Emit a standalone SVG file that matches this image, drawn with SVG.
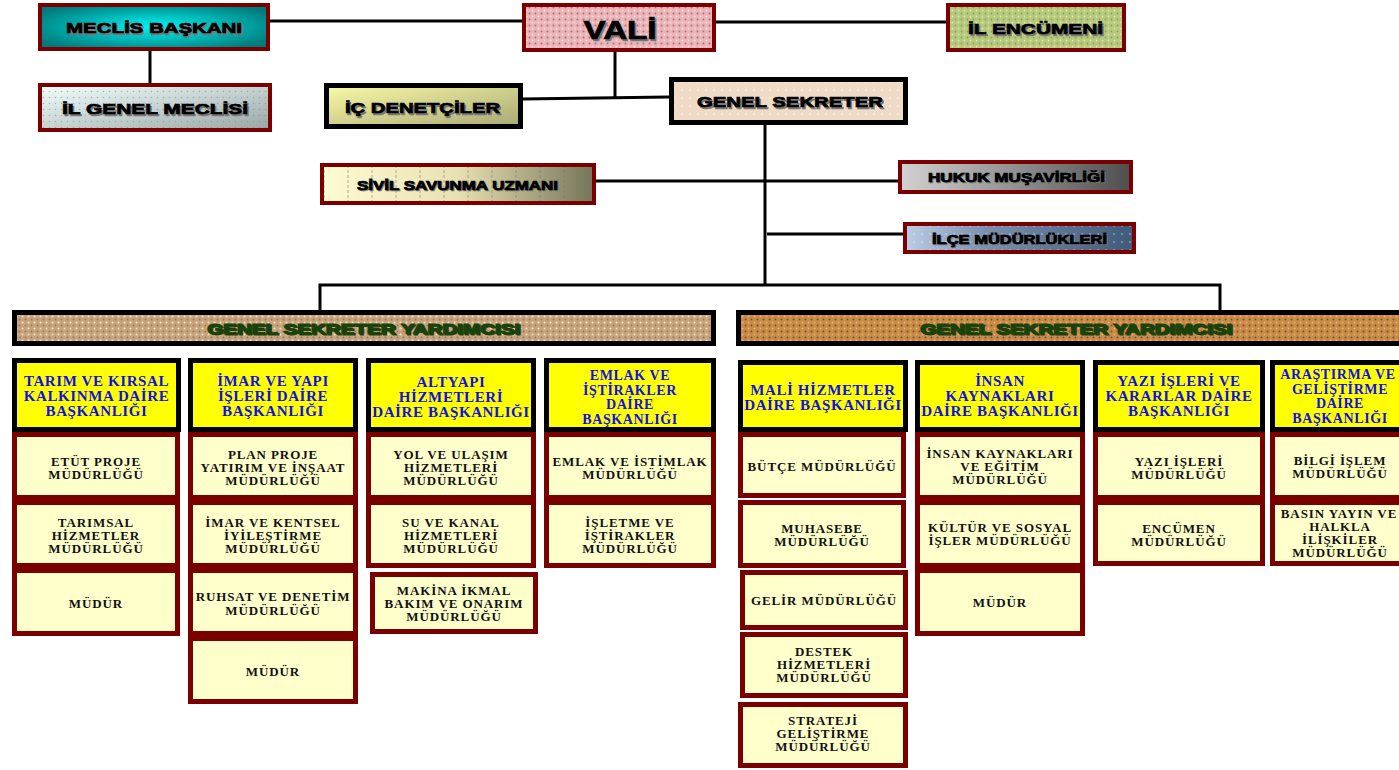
<svg xmlns="http://www.w3.org/2000/svg" width="1399" height="770" viewBox="0 0 1399 770">
<defs>
<style>
.top{font-family:"Liberation Sans",Arial,sans-serif;font-weight:bold;fill:#000;stroke:#000;stroke-width:0.7;text-anchor:middle}
.sh{fill:#777;stroke:#777}
.hd{font-family:"Liberation Serif","Times New Roman",serif;font-weight:bold;font-size:15px;letter-spacing:0.6px;fill:#1010e6;text-anchor:middle}
.h4{font-size:14px}
.sb{font-family:"Liberation Serif","Times New Roman",serif;font-weight:bold;font-size:13px;fill:#111;text-anchor:middle;letter-spacing:0.9px}
.gsy{font-family:"Liberation Sans",Arial,sans-serif;font-weight:bold;font-size:15px;fill:#1a420c;stroke:#1a420c;stroke-width:0.9;text-anchor:middle}
.hbox{fill:#ffff00;stroke:#000;stroke-width:5}
.sbox{fill:#ffffcc;stroke:#7a0000;stroke-width:5}
.rbox{stroke:#7a0000;stroke-width:4}
.kbox{stroke:#000;stroke-width:5}
.con{stroke:#000;stroke-width:3;fill:none}
</style>
<radialGradient id="gMec" cx="50%" cy="50%" r="60%"><stop offset="0" stop-color="#00f4f4"/><stop offset="1" stop-color="#007a7a"/></radialGradient>
<pattern id="pVali" width="6" height="6" patternUnits="userSpaceOnUse"><rect width="6" height="6" fill="#eab4b8"/><circle cx="1.5" cy="1.5" r="1" fill="#b8707a"/><circle cx="4.5" cy="4.5" r="1" fill="#f8dde0"/></pattern>
<pattern id="pEnc" width="6" height="6" patternUnits="userSpaceOnUse"><rect width="6" height="6" fill="#b6c97c"/><circle cx="1.5" cy="1.5" r="0.9" fill="#8fa35a"/><circle cx="4.5" cy="4.5" r="0.9" fill="#dbe6b4"/></pattern>
<linearGradient id="gIgm" x1="0" y1="0" x2="1" y2="1"><stop offset="0" stop-color="#f2ffff"/><stop offset="1" stop-color="#9aa6a6"/></linearGradient>
<pattern id="pIgm" width="6" height="6" patternUnits="userSpaceOnUse"><circle cx="1.5" cy="1.5" r="0.8" fill="#7f8c8c" opacity="0.6"/></pattern>
<linearGradient id="gIc" x1="0" y1="0" x2="1" y2="1"><stop offset="0" stop-color="#fafaa8"/><stop offset="1" stop-color="#a8a874"/></linearGradient>
<pattern id="pGs" width="8" height="8" patternUnits="userSpaceOnUse"><rect width="8" height="8" fill="#f0dcc6"/><circle cx="2" cy="2" r="0.8" fill="#fff8ee"/></pattern>
<linearGradient id="gSiv" x1="0" y1="0" x2="1" y2="0"><stop offset="0" stop-color="#fffcd4"/><stop offset="0.5" stop-color="#e8e0b0"/><stop offset="1" stop-color="#75755a"/></linearGradient>
<pattern id="pSiv" width="24" height="40" patternUnits="userSpaceOnUse"><line x1="12" y1="0" x2="12" y2="40" stroke="#777" stroke-width="0.6" stroke-dasharray="3 2"/></pattern>
<linearGradient id="gHuk" x1="0" y1="0" x2="1" y2="0"><stop offset="0" stop-color="#d2d2d2"/><stop offset="1" stop-color="#4e4e4e"/></linearGradient>
<linearGradient id="gIlce" x1="0" y1="0" x2="1" y2="0"><stop offset="0" stop-color="#bccde6"/><stop offset="0.35" stop-color="#7a90b0"/><stop offset="1" stop-color="#3f5a78"/></linearGradient>
<pattern id="pIlce" width="8" height="8" patternUnits="userSpaceOnUse"><circle cx="2" cy="2" r="0.8" fill="#e6eef8" opacity="0.7"/></pattern>
<pattern id="pGsy1" width="6" height="6" patternUnits="userSpaceOnUse"><rect width="6" height="6" fill="#c8a47c"/><circle cx="1.5" cy="1.5" r="1" fill="#9c7a54"/><circle cx="4.5" cy="4.5" r="1" fill="#f2e2cc"/></pattern>
<pattern id="pGsy2" width="6" height="6" patternUnits="userSpaceOnUse"><rect width="6" height="6" fill="#c88a48"/><circle cx="1.5" cy="1.5" r="1" fill="#7e5428"/><circle cx="4.5" cy="4.5" r="1" fill="#f0b060"/></pattern>
</defs>
<rect width="1399" height="770" fill="#fff"/>

<g id="connectors">
<line class="con" x1="270" y1="21" x2="522" y2="21"/>
<line class="con" x1="716" y1="22" x2="946" y2="22"/>
<line class="con" x1="150" y1="50" x2="150" y2="84"/>
<line class="con" x1="615" y1="51" x2="615" y2="98"/>
<line class="con" x1="522" y1="99" x2="669" y2="97"/>
<line class="con" x1="765" y1="125" x2="765" y2="286"/>
<line class="con" x1="596" y1="181" x2="898" y2="181"/>
<line class="con" x1="767" y1="234" x2="903" y2="234"/>
<polyline class="con" points="320,310 320,285 1220,285 1220,310"/>
</g>

<g id="meclis-baskani">
<rect x="40" y="5" width="228" height="44" fill="url(#gMec)" class="rbox"/>
<text class="top sh" x="155.5" y="34.5" font-size="15" textLength="176" lengthAdjust="spacingAndGlyphs">MECLİS BAŞKANI</text>
<text class="top" x="154" y="33" font-size="15" textLength="176" lengthAdjust="spacingAndGlyphs">MECLİS BAŞKANI</text>
</g>
<g id="vali">
<rect x="524" y="5" width="190" height="45" fill="url(#pVali)" class="rbox"/>
<text class="top sh" x="621.5" y="40.5" font-size="25" textLength="73" lengthAdjust="spacingAndGlyphs">VALİ</text>
<text class="top" x="620" y="39" font-size="25" textLength="73" lengthAdjust="spacingAndGlyphs">VALİ</text>
</g>
<g id="il-encumeni">
<rect x="948" y="5" width="176" height="45" fill="url(#pEnc)" class="rbox"/>
<text class="top sh" x="1037" y="35.5" font-size="15" textLength="135" lengthAdjust="spacingAndGlyphs">İL ENCÜMENİ</text>
<text class="top" x="1035.5" y="34" font-size="15" textLength="135" lengthAdjust="spacingAndGlyphs">İL ENCÜMENİ</text>
</g>
<g id="il-genel-meclisi">
<rect x="40" y="85" width="230" height="45" fill="url(#gIgm)" class="rbox"/>
<rect x="42" y="87" width="226" height="41" fill="url(#pIgm)"/>
<text class="top sh" x="156.5" y="115.5" font-size="15" textLength="186" lengthAdjust="spacingAndGlyphs">İL GENEL MECLİSİ</text>
<text class="top" x="155" y="114" font-size="15" textLength="186" lengthAdjust="spacingAndGlyphs">İL GENEL MECLİSİ</text>
</g>
<g id="ic-denetciler">
<rect x="326.5" y="85.5" width="194" height="41" fill="url(#gIc)" class="kbox"/>
<text class="top sh" x="424" y="114.5" font-size="15" textLength="155" lengthAdjust="spacingAndGlyphs">İÇ DENETÇİLER</text>
<text class="top" x="422.5" y="113" font-size="15" textLength="155" lengthAdjust="spacingAndGlyphs">İÇ DENETÇİLER</text>
</g>
<g id="genel-sekreter">
<rect x="671.5" y="79.5" width="234" height="43" fill="url(#pGs)" class="kbox"/>
<text class="top sh" x="791.5" y="108.5" font-size="15" textLength="186" lengthAdjust="spacingAndGlyphs">GENEL SEKRETER</text>
<text class="top" x="790" y="107" font-size="15" textLength="186" lengthAdjust="spacingAndGlyphs">GENEL SEKRETER</text>
</g>
<g id="sivil-savunma">
<rect x="322" y="165" width="272" height="38" fill="url(#gSiv)" class="rbox"/>
<rect x="324" y="167" width="268" height="34" fill="url(#pSiv)"/>
<text class="top sh" x="458.5" y="190.5" font-size="12" textLength="201" lengthAdjust="spacingAndGlyphs">SİVİL SAVUNMA UZMANI</text>
<text class="top" x="457.5" y="189.5" font-size="12" textLength="201" lengthAdjust="spacingAndGlyphs">SİVİL SAVUNMA UZMANI</text>
</g>
<g id="hukuk-musavirligi">
<rect x="900" y="162" width="231" height="30" fill="url(#gHuk)" class="rbox"/>
<text class="top sh" x="1017.5" y="183" font-size="12" textLength="177" lengthAdjust="spacingAndGlyphs">HUKUK MUŞAVİRLİĞİ</text>
<text class="top" x="1016.5" y="182" font-size="12" textLength="177" lengthAdjust="spacingAndGlyphs">HUKUK MUŞAVİRLİĞİ</text>
</g>
<g id="ilce-mudurlukleri">
<rect x="905" y="224" width="229" height="28" fill="url(#gIlce)" class="rbox"/>
<rect x="907" y="226" width="225" height="24" fill="url(#pIlce)"/>
<text class="top sh" x="1020.5" y="245" font-size="12" textLength="175" lengthAdjust="spacingAndGlyphs">İLÇE MÜDÜRLÜKLERİ</text>
<text class="top" x="1019.5" y="244" font-size="12" textLength="175" lengthAdjust="spacingAndGlyphs">İLÇE MÜDÜRLÜKLERİ</text>
</g>

<g id="gsy-left">
<rect x="14.5" y="312.5" width="699" height="31" fill="url(#pGsy1)" class="kbox"/>
<text class="gsy sh" x="365" y="335" textLength="313" lengthAdjust="spacingAndGlyphs">GENEL SEKRETER YARDIMCISI</text>
<text class="gsy" x="363.5" y="334" textLength="313" lengthAdjust="spacingAndGlyphs">GENEL SEKRETER YARDIMCISI</text>
</g>
<g id="gsy-right">
<rect x="738.5" y="312.5" width="680" height="31" fill="url(#pGsy2)" class="kbox"/>
<text class="gsy sh" x="1077.5" y="335" textLength="312" lengthAdjust="spacingAndGlyphs">GENEL SEKRETER YARDIMCISI</text>
<text class="gsy" x="1076" y="334" textLength="312" lengthAdjust="spacingAndGlyphs">GENEL SEKRETER YARDIMCISI</text>
</g>

<g id="tarim">
<rect class="hbox" x="14.5" y="360.5" width="164" height="69"/>
<text class="hd" x="96.5" y="386">TARIM VE KIRSAL</text>
<text class="hd" x="96.5" y="401">KALKINMA DAİRE</text>
<text class="hd" x="96.5" y="416">BAŞKANLIĞI</text>
</g>
<g id="etut-proje"><rect class="sbox" x="14.5" y="434.5" width="163" height="63"/>
<text class="sb" x="96" y="466">ETÜT PROJE</text><text class="sb" x="96" y="479">MÜDÜRLÜĞÜ</text></g>
<g id="tarimsal"><rect class="sbox" x="14.5" y="502.5" width="163" height="63"/>
<text class="sb" x="96" y="527">TARIMSAL</text><text class="sb" x="96" y="540">HİZMETLER</text><text class="sb" x="96" y="553">MÜDÜRLÜĞÜ</text></g>
<g id="tarim-mudur"><rect class="sbox" x="14.5" y="570.5" width="163" height="63"/>
<text class="sb" x="96" y="608">MÜDÜR</text></g>

<g id="imar">
<rect class="hbox" x="190.5" y="360.5" width="165" height="69"/>
<text class="hd" x="273" y="386">İMAR VE YAPI</text>
<text class="hd" x="273" y="401">İŞLERİ DAİRE</text>
<text class="hd" x="273" y="416">BAŞKANLIĞI</text>
</g>
<g id="plan-proje"><rect class="sbox" x="190.5" y="434.5" width="165" height="63"/>
<text class="sb" x="273" y="459">PLAN PROJE</text><text class="sb" x="273" y="472">YATIRIM VE İNŞAAT</text><text class="sb" x="273" y="485">MÜDÜRLÜĞÜ</text></g>
<g id="imar-kentsel"><rect class="sbox" x="190.5" y="502.5" width="165" height="63"/>
<text class="sb" x="273" y="527">İMAR VE KENTSEL</text><text class="sb" x="273" y="540">İYİLEŞTİRME</text><text class="sb" x="273" y="553">MÜDÜRLÜĞÜ</text></g>
<g id="ruhsat"><rect class="sbox" x="190.5" y="570.5" width="165" height="63"/>
<text class="sb" x="273" y="601">RUHSAT VE DENETİM</text><text class="sb" x="273" y="615">MÜDÜRLÜĞÜ</text></g>
<g id="imar-mudur"><rect class="sbox" x="190.5" y="638.5" width="165" height="63"/>
<text class="sb" x="273" y="676">MÜDÜR</text></g>

<g id="altyapi">
<rect class="hbox" x="368.5" y="360.5" width="165" height="69"/>
<text class="hd" x="451" y="387">ALTYAPI</text>
<text class="hd" x="451" y="402">HİZMETLERİ</text>
<text class="hd" x="451" y="417">DAİRE BAŞKANLIĞI</text>
</g>
<g id="yol-ulasim"><rect class="sbox" x="368.5" y="434.5" width="165" height="63"/>
<text class="sb" x="451" y="459">YOL VE ULAŞIM</text><text class="sb" x="451" y="472">HİZMETLERİ</text><text class="sb" x="451" y="485">MÜDÜRLÜĞÜ</text></g>
<g id="su-kanal"><rect class="sbox" x="368.5" y="502.5" width="165" height="63"/>
<text class="sb" x="451" y="527">SU VE KANAL</text><text class="sb" x="451" y="540">HİZMETLERİ</text><text class="sb" x="451" y="553">MÜDÜRLÜĞÜ</text></g>
<g id="makina"><rect class="sbox" x="372.5" y="574.5" width="163" height="57"/>
<text class="sb" x="454" y="595">MAKİNA İKMAL</text><text class="sb" x="454" y="608">BAKIM VE ONARIM</text><text class="sb" x="454" y="621">MÜDÜRLÜĞÜ</text></g>

<g id="emlak">
<rect class="hbox" x="546.5" y="360.5" width="167" height="69"/>
<text class="hd h4" x="630" y="380">EMLAK VE</text>
<text class="hd h4" x="630" y="394.5">İŞTİRAKLER</text>
<text class="hd h4" x="630" y="409">DAİRE</text>
<text class="hd h4" x="630" y="423.5">BAŞKANLIĞI</text>
</g>
<g id="emlak-istimlak"><rect class="sbox" x="546.5" y="434.5" width="167" height="63"/>
<text class="sb" x="630" y="466">EMLAK VE İSTİMLAK</text><text class="sb" x="630" y="479">MÜDÜRLÜĞÜ</text></g>
<g id="isletme"><rect class="sbox" x="546.5" y="502.5" width="167" height="63"/>
<text class="sb" x="630" y="527">İŞLETME VE</text><text class="sb" x="630" y="540">İŞTİRAKLER</text><text class="sb" x="630" y="553">MÜDÜRLÜĞÜ</text></g>

<g id="mali">
<rect class="hbox" x="740.5" y="362.5" width="165" height="67"/>
<text class="hd" x="823" y="395">MALİ HİZMETLER</text>
<text class="hd" x="823" y="410">DAİRE BAŞKANLIĞI</text>
</g>
<g id="butce"><rect class="sbox" x="740.5" y="434.5" width="163" height="61"/>
<text class="sb" x="822" y="471">BÜTÇE MÜDÜRLÜĞÜ</text></g>
<g id="muhasebe"><rect class="sbox" x="740.5" y="502.5" width="163" height="63"/>
<text class="sb" x="822" y="533">MUHASEBE</text><text class="sb" x="822" y="546">MÜDÜRLÜĞÜ</text></g>
<g id="gelir"><rect class="sbox" x="742.5" y="572.5" width="163" height="55"/>
<text class="sb" x="824" y="605">GELİR MÜDÜRLÜĞÜ</text></g>
<g id="destek"><rect class="sbox" x="742.5" y="634.5" width="163" height="61"/>
<text class="sb" x="824" y="656">DESTEK</text><text class="sb" x="824" y="669">HİZMETLERİ</text><text class="sb" x="824" y="682">MÜDÜRLÜĞÜ</text></g>
<g id="strateji"><rect class="sbox" x="740.5" y="704.5" width="165" height="61"/>
<text class="sb" x="823" y="725">STRATEJİ</text><text class="sb" x="823" y="738">GELİŞTİRME</text><text class="sb" x="823" y="751">MÜDÜRLÜĞÜ</text></g>

<g id="insan">
<rect class="hbox" x="917.5" y="362.5" width="165" height="67"/>
<text class="hd" x="1000" y="386">İNSAN</text>
<text class="hd" x="1000" y="401">KAYNAKLARI</text>
<text class="hd" x="1000" y="416">DAİRE BAŞKANLIĞI</text>
</g>
<g id="insan-kaynaklari"><rect class="sbox" x="917.5" y="434.5" width="165" height="63"/>
<text class="sb" x="1000" y="458">İNSAN KAYNAKLARI</text><text class="sb" x="1000" y="471">VE EĞİTİM</text><text class="sb" x="1000" y="484">MÜDÜRLÜĞÜ</text></g>
<g id="kultur"><rect class="sbox" x="917.5" y="502.5" width="165" height="63"/>
<text class="sb" x="1000" y="532">KÜLTÜR VE SOSYAL</text><text class="sb" x="1000" y="545">İŞLER MÜDÜRLÜĞÜ</text></g>
<g id="insan-mudur"><rect class="sbox" x="917.5" y="570.5" width="165" height="63"/>
<text class="sb" x="1000" y="607">MÜDÜR</text></g>

<g id="yazi">
<rect class="hbox" x="1095.5" y="362.5" width="167" height="67"/>
<text class="hd" x="1179" y="386">YAZI İŞLERİ VE</text>
<text class="hd" x="1179" y="401">KARARLAR DAİRE</text>
<text class="hd" x="1179" y="416">BAŞKANLIĞI</text>
</g>
<g id="yazi-isleri"><rect class="sbox" x="1095.5" y="434.5" width="167" height="63"/>
<text class="sb" x="1179" y="466">YAZI İŞLERİ</text><text class="sb" x="1179" y="479">MÜDÜRLÜĞÜ</text></g>
<g id="encumen"><rect class="sbox" x="1095.5" y="502.5" width="167" height="61"/>
<text class="sb" x="1179" y="533">ENCÜMEN</text><text class="sb" x="1179" y="546">MÜDÜRLÜĞÜ</text></g>

<g id="arastirma">
<rect class="hbox" x="1272.5" y="362.5" width="150" height="67"/>
<text class="hd h4" x="1338" y="379">ARAŞTIRMA VE</text>
<text class="hd h4" x="1340" y="393.5">GELİŞTİRME</text>
<text class="hd h4" x="1340" y="408">DAİRE</text>
<text class="hd h4" x="1340" y="422.5">BAŞKANLIĞI</text>
</g>
<g id="bilgi-islem"><rect class="sbox" x="1272.5" y="434.5" width="150" height="63"/>
<text class="sb" x="1340" y="465">BİLGİ İŞLEM</text><text class="sb" x="1340" y="478">MÜDÜRLÜĞÜ</text></g>
<g id="basin"><rect class="sbox" x="1272.5" y="502.5" width="150" height="61"/>
<text class="sb" x="1339" y="518">BASIN YAYIN VE</text><text class="sb" x="1340" y="531">HALKLA</text><text class="sb" x="1340" y="544">İLİŞKİLER</text><text class="sb" x="1340" y="557">MÜDÜRLÜĞÜ</text></g>
</svg>
